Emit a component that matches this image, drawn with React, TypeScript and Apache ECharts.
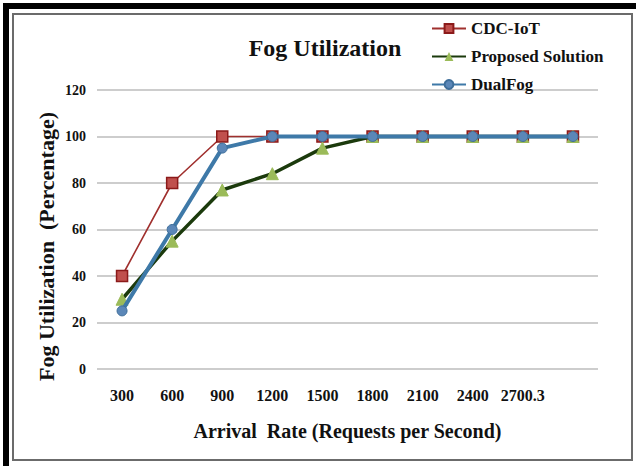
import React, { useEffect, useRef } from "react";
import * as echarts from "echarts";

const categories = ["300", "600", "900", "1200", "1500", "1800", "2100", "2400", "2700.3", ""];
const cdcIoT = [40, 80, 100, 100, 100, 100, 100, 100, 100, 100];
const proposed = [30, 55, 77, 84, 95, 100, 100, 100, 100, 100];
const dualFog = [25, 60, 95, 100, 100, 100, 100, 100, 100, 100];
const yTicks = { min: 0, max: 120, interval: 20 };

const FONT = "Liberation Serif";

export default function App() {
  const ref = useRef<HTMLDivElement>(null);
  useEffect(() => {
    document.body.style.margin = "0";
    const chart = echarts.init(ref.current!, undefined, { renderer: "svg" });
    chart.setOption({
      animation: false,
      backgroundColor: "#ffffff",
      textStyle: { fontFamily: FONT },
      title: {
        text: "Fog Utilization",
        left: 320,
        top: 31,
        textAlign: "center",
        textStyle: { fontFamily: FONT, fontWeight: "bold", fontSize: 24, color: "#111" },
      },
      legend: {
        orient: "vertical",
        left: 426,
        top: 15,
        itemWidth: 34,
        itemHeight: 11,
        itemGap: 11,
        textStyle: { fontFamily: FONT, fontWeight: "bold", fontSize: 17, color: "#111" },
        data: ["CDC-IoT", "Proposed Solution", "DualFog"],
      },
      grid: { left: 97, right: 38, top: 90, bottom: 97, containLabel: false },
      xAxis: {
        type: "category",
        data: categories,
        boundaryGap: true,
        axisLine: { show: false },
        axisTick: { show: false },
        axisLabel: { fontFamily: FONT, fontWeight: "bold", fontSize: 16, color: "#111", margin: 18, interval: 0 },
        name: "Arrival  Rate (Requests per Second)",
        nameLocation: "middle",
        nameGap: 52,
        nameMoveOverlap: false,
        nameTextStyle: { fontFamily: FONT, fontWeight: "bold", fontSize: 20, color: "#111" },
      },
      yAxis: {
        type: "value",
        min: yTicks.min,
        max: yTicks.max,
        interval: yTicks.interval,
        axisLine: { show: false },
        axisTick: { show: false },
        splitLine: { lineStyle: { color: "#bdbdbd", width: 1.5 } },
        axisLabel: { fontFamily: FONT, fontWeight: "bold", fontSize: 14, color: "#111", margin: 11 },
        name: "Fog Utilization  (Percentage)",
        nameLocation: "middle",
        nameGap: 40,
        nameMoveOverlap: false,
        nameRotate: 90,
        nameTextStyle: { fontFamily: FONT, fontWeight: "bold", fontSize: 22, color: "#111", padding: [0, 34, 0, 0] },
      },
      graphic: [
        { type: "rect", shape: { x: 13, y: 14, width: 619, height: 446 }, style: { fill: "none", stroke: "#6b6b6b", lineWidth: 2 }, z: 100 },
        { type: "rect", shape: { x: 3, y: 3, width: 6, height: 463 }, style: { fill: "#000" }, z: 100 },
        { type: "rect", shape: { x: 3, y: 3, width: 633, height: 6 }, style: { fill: "#000" }, z: 100 },
      ],
      series: [
        {
          name: "CDC-IoT",
          type: "line",
          data: cdcIoT,
          symbol: "rect",
          symbolSize: 11,
          lineStyle: { color: "#a0302e", width: 1.6 },
          itemStyle: { color: "#c0504d", borderColor: "#8b1a1a", borderWidth: 1.5 },
          z: 2,
        },
        {
          name: "Proposed Solution",
          type: "line",
          data: proposed,
          symbol: "triangle",
          symbolSize: 12,
          lineStyle: { color: "#1b3a0c", width: 3.5 },
          itemStyle: { color: "#9bbb59", borderColor: "#9bbb59" },
          z: 3,
        },
        {
          name: "DualFog",
          type: "line",
          data: dualFog,
          symbol: "circle",
          symbolSize: 10,
          lineStyle: { color: "#3e79a8", width: 4 },
          itemStyle: { color: "#5b87b8", borderColor: "#3e6e9a", borderWidth: 1 },
          z: 4,
        },
      ],
    });
    return () => chart.dispose();
  }, []);
  return <div ref={ref} style={{ width: 636, height: 466 }} />;
}
